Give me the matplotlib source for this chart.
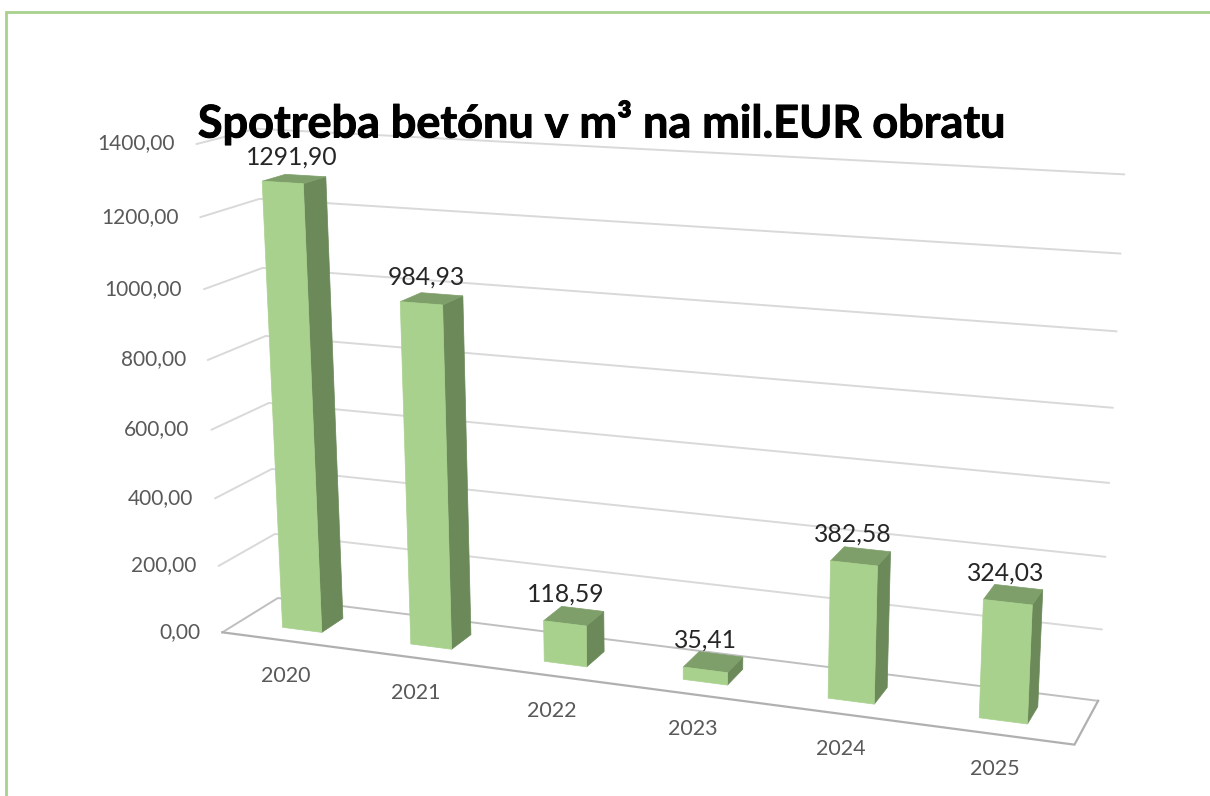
import numpy as np
import matplotlib
matplotlib.use("Agg")
import matplotlib.pyplot as plt
import matplotlib.patheffects as pe
from matplotlib.patches import Polygon

# ---- chart data ----
years = ["2020", "2021", "2022", "2023", "2024", "2025"]
values = [1291.90, 984.93, 118.59, 35.41, 382.58, 324.03]
value_labels = ["1291,90", "984,93", "118,59", "35,41", "382,58", "324,03"]
y_ticks = [0, 200, 400, 600, 800, 1000, 1200, 1400]
y_tick_labels = ["0,00", "200,00", "400,00", "600,00", "800,00", "1000,00", "1200,00", "1400,00"]
title = "Spotreba betónu v m³ na mil.EUR obratu"

# ---- camera calibration: plot-box corners (category, value, depth) -> pixels ----
world = np.array([
    (0, 0, 0), (6, 0, 0), (6, 0, 1), (0, 0, 1),
    (0, 1400, 0), (0, 1400, 1), (6, 1400, 1),
    (0, 1200, 0), (0, 1200, 1), (6, 1200, 1),
    (0, 1000, 0), (6, 1000, 1), (6, 600, 1), (6, 200, 1), (0, 200, 0),
], float)
screen = np.array([
    (222, 632), (1075, 744), (1097, 701), (278, 598),
    (197, 144), (256, 128), (1124, 174),
    (200, 218), (260, 199), (1120, 254),
    (204, 289), (1116, 331), (1110, 483), (1102, 630), (219, 566),
], float)
SCALE = np.array([1 / 6, 1 / 1400, 1.0])


def fit_camera(w, s):
    w = w * SCALE
    A, b = [], []
    for (X, Y, Z), (u, v) in zip(w, s):
        A.append([X, Y, Z, 1, 0, 0, 0, 0, -u * X, -u * Y, -u * Z])
        A.append([0, 0, 0, 0, X, Y, Z, 1, -v * X, -v * Y, -v * Z])
        b += [u, v]
    p = np.linalg.lstsq(np.array(A), np.array(b), rcond=None)[0]
    return np.append(p, 1).reshape(3, 4)


CAM = fit_camera(world, screen)


def proj(x, y, z):
    h = CAM @ np.array([x / 6, y / 1400, z, 1.0])
    return h[0] / h[2], h[1] / h[2]


# ---- figure: one axes in pixel units ----
plt.rcParams["font.family"] = ["Lato", "DejaVu Sans"]
fig = plt.figure(figsize=(12.10, 7.96), dpi=100, facecolor="white")
ax = fig.add_axes([0, 0, 1, 1])
ax.set_xlim(0, 1210)
ax.set_ylim(796, 0)
ax.axis("off")

BORDER = "#A9D18E"
ax.plot([6, 6, 1210], [796, 11.5, 11.5], color=BORDER, lw=2.0, solid_joinstyle="miter", zorder=1)

GRID = "#D9D9D9"
FLOOR = "#BFBFBF"
for t, lab in zip(y_ticks, y_tick_labels):
    a, b, c = proj(0, t, 0), proj(0, t, 1), proj(6, t, 1)
    col = FLOOR if t == 0 else GRID
    ax.plot([a[0], b[0], c[0]], [a[1], b[1], c[1]], color=col, lw=1.4, zorder=2,
            solid_joinstyle="round")
    ax.text(a[0] - 22, a[1] - 0.5, lab, ha="right", va="center", fontsize=15, color="#595959", zorder=6)

corners = [proj(0, 0, 0), proj(6, 0, 0), proj(6, 0, 1)]
ax.plot(*zip(*corners), color="#B0B0B0", lw=1.6, zorder=2)

FRONT, SIDE, TOP = "#A9D18E", "#6B8959", "#7E9F6A"
HALF_W = 0.155
Z0, Z1 = 0.30, 0.70
LABEL_DX = [-2, -5.5, -8, -8, -8, -8]
for i, (val, lab, yr) in enumerate(zip(values, value_labels, years)):
    c = i + 0.5
    x0, x1 = c - HALF_W, c + HALF_W
    faces = [
        ([(x1, 0, Z0), (x1, 0, Z1), (x1, val, Z1), (x1, val, Z0)], SIDE),
        ([(x0, val, Z0), (x1, val, Z0), (x1, val, Z1), (x0, val, Z1)], TOP),
        ([(x0, 0, Z0), (x1, 0, Z0), (x1, val, Z0), (x0, val, Z0)], FRONT),
    ]
    for pts, col in faces:
        ax.add_patch(Polygon([proj(*p) for p in pts], closed=True, facecolor=col,
                             edgecolor=col, lw=0.5, zorder=3 + i * 0.01))
    tx, ty = proj(c, val, 0.5)
    ax.text(tx + LABEL_DX[i], ty - 22, lab, ha="center", va="center", fontsize=17.8, color="#262626", zorder=7)
    lx, ly = proj(c, 0, 0)
    ax.text(lx, ly + 35, yr, ha="center", va="center", fontsize=15.5, color="#595959", zorder=6)

ax.text(601, 122.5, title, ha="center", va="center", fontsize=32.4, fontweight="bold", color="black", zorder=8,
        path_effects=[pe.withStroke(linewidth=0.7, foreground="black")])

fig.savefig("out.png", dpi=100, facecolor="white")
